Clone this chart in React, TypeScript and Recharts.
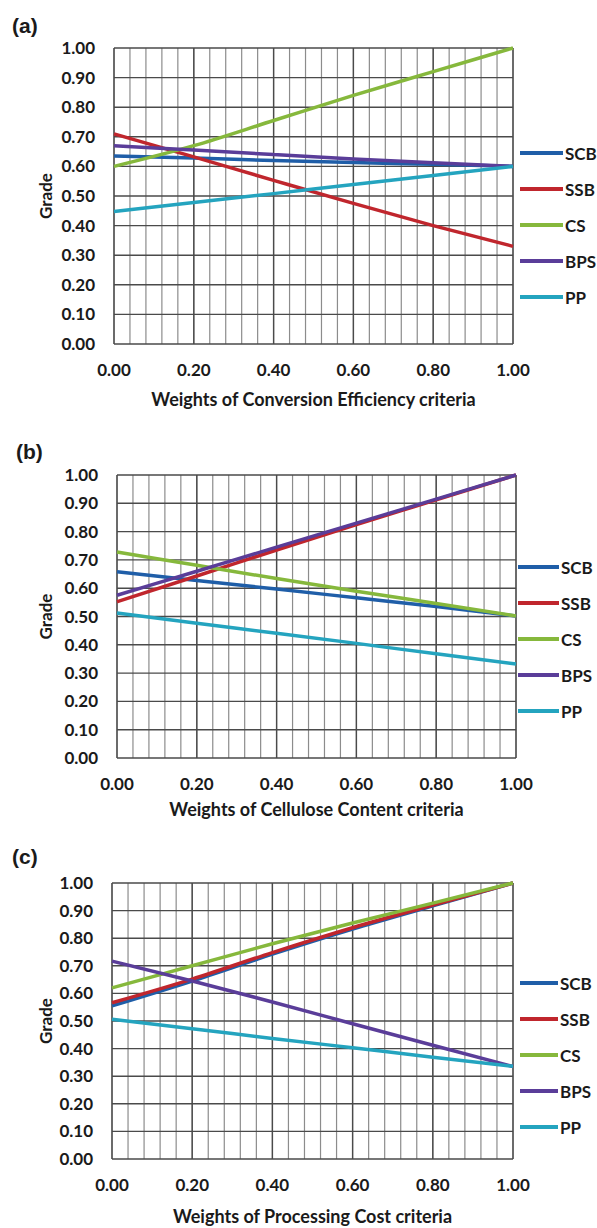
import { LineChart, Line, XAxis, YAxis, CartesianGrid } from "recharts";

const weights = [0, 0.2, 0.4, 0.6, 0.8, 1.0];
const seriesNames = ["SCB", "SSB", "CS", "BPS", "PP"];
const seriesColors = ["#1f5ea8", "#c0262d", "#86b83c", "#5a3d99", "#24a4bf"];

// (a) Conversion Efficiency
const scbA = [0.635, 0.628, 0.62, 0.613, 0.607, 0.6];
const ssbA = [0.71, 0.632, 0.553, 0.475, 0.4, 0.33];
const csA = [0.6, 0.67, 0.755, 0.84, 0.92, 1.0];
const bpsA = [0.67, 0.655, 0.64, 0.625, 0.612, 0.6];
const ppA = [0.448, 0.478, 0.508, 0.539, 0.569, 0.6];

// (b) Cellulose Content
const scbB = [0.658, 0.627, 0.597, 0.566, 0.535, 0.502];
const ssbB = [0.552, 0.643, 0.735, 0.825, 0.912, 1.0];
const csB = [0.728, 0.681, 0.634, 0.589, 0.546, 0.502];
const bpsB = [0.575, 0.66, 0.745, 0.83, 0.915, 1.0];
const ppB = [0.512, 0.476, 0.441, 0.405, 0.368, 0.332];

// (c) Processing Cost
const scbC = [0.555, 0.645, 0.742, 0.833, 0.917, 1.0];
const ssbC = [0.566, 0.652, 0.748, 0.838, 0.92, 1.0];
const csC = [0.62, 0.7, 0.78, 0.855, 0.927, 1.0];
const bpsC = [0.717, 0.645, 0.569, 0.49, 0.412, 0.335];
const ppC = [0.506, 0.472, 0.437, 0.403, 0.369, 0.336];

const gradeTicks = [0, 0.1, 0.2, 0.3, 0.4, 0.5, 0.6, 0.7, 0.8, 0.9, 1.0];
const weightTicks = [0, 0.2, 0.4, 0.6, 0.8, 1.0];
const minorTicks = Array.from({ length: 26 }, (_, i) => i * 0.04);

const toRows = (cols: number[][]) =>
  weights.map((w, i) => {
    const r: any = { w };
    seriesNames.forEach((n, j) => (r[n] = cols[j][i]));
    return r;
  });

const panels = [
  {
    tag: "(a)", tagY: 14, tagX: 12,
    title: "Weights of Conversion Efficiency criteria",
    rows: toRows([scbA, ssbA, csA, bpsA, ppA]),
    plotTop: 48, plotBottom: 344, plotLeft: 114, plotRight: 513,
    titleGap: 62, legendX: 520, legendY: 153, swatch: 43,
  },
  {
    tag: "(b)", tagY: 440, tagX: 16,
    title: "Weights of Cellulose Content criteria",
    rows: toRows([scbB, ssbB, csB, bpsB, ppB]),
    plotTop: 475, plotBottom: 758, plotLeft: 117, plotRight: 516,
    titleGap: 58, legendX: 518, legendY: 567, swatch: 41,
  },
  {
    tag: "(c)", tagY: 845, tagX: 12,
    title: "Weights of Processing Cost criteria",
    rows: toRows([scbC, ssbC, csC, bpsC, ppC]),
    plotTop: 883, plotBottom: 1159, plotLeft: 112, plotRight: 513,
    titleGap: 64, legendX: 520, legendY: 983, swatch: 38,
  },
];

const FONT = "Lato, 'Open Sans', sans-serif";
const INK = "#1a1a1a";

const Panel = ({ p }: { p: (typeof panels)[number] }) => {
  const T = p.plotTop - 40;
  const h = p.plotBottom - T + 72;
  return (
    <>
      <div
        style={{
          position: "absolute", left: p.tagX, top: p.tagY,
          fontFamily: "'Liberation Sans', Arial, sans-serif",
          fontWeight: 700, fontSize: 21, color: INK,
        }}
      >
        {p.tag}
      </div>
      <div style={{ position: "absolute", left: 0, top: T }}>
        <LineChart
          width={597}
          height={h}
          data={p.rows}
          margin={{ top: 40, right: 597 - p.plotRight, left: 0, bottom: 0 }}
        >
          <XAxis
            xAxisId="minor"
            dataKey="w"
            type="number"
            domain={[0, 1]}
            ticks={minorTicks}
            interval={0}
            hide
          />
          <XAxis
            xAxisId="main"
            dataKey="w"
            type="number"
            domain={[0, 1]}
            ticks={weightTicks}
            interval={0}
            tickFormatter={(v: number) => v.toFixed(2)}
            height={72}
            axisLine={false}
            tickLine={false}
            tickMargin={14}
            tick={{ fill: INK, fontSize: 17, fontWeight: 700, fontFamily: FONT }}
            label={(props: any) => {
              const vb = props.viewBox;
              return (
                <text
                  x={vb.x + vb.width / 2}
                  y={vb.y + p.titleGap}
                  textAnchor="middle"
                  fill={INK}
                  style={{ fontSize: 18, fontWeight: 700, fontFamily: FONT }}
                >
                  {p.title}
                </text>
              );
            }}
          />
          <YAxis
            domain={[0, 1]}
            ticks={gradeTicks}
            interval={0}
            width={p.plotLeft}
            tickFormatter={(v: number) => v.toFixed(2)}
            axisLine={false}
            tickLine={false}
            tickMargin={13}
            tick={{ fill: INK, fontSize: 17, fontWeight: 700, fontFamily: FONT }}
            label={(props: any) => {
              const vb = props.viewBox;
              const cx = vb.x + 45;
              const cy = vb.y + vb.height / 2;
              return (
                <text
                  x={cx}
                  y={cy}
                  transform={`rotate(-90 ${cx} ${cy})`}
                  textAnchor="middle"
                  dominantBaseline="central"
                  fill={INK}
                  style={{ fontSize: 17, fontWeight: 700, fontFamily: FONT }}
                >
                  Grade
                </text>
              );
            }}
          />
          <CartesianGrid xAxisId="minor" horizontal={false} stroke="#8c8c8c" strokeWidth={1.2} />
          <CartesianGrid xAxisId="main" stroke="#4a4a4a" strokeWidth={1.4} />
          {seriesNames.map((n, i) => (
            <Line
              key={n}
              xAxisId="main"
              type="monotone"
              dataKey={n}
              stroke={seriesColors[i]}
              strokeWidth={3.5}
              dot={false}
              activeDot={false}
              isAnimationActive={false}
            />
          ))}
        </LineChart>
      </div>
      {seriesNames.map((n, i) => (
        <div
          key={n}
          style={{
            position: "absolute",
            left: p.legendX,
            top: p.legendY + i * 36 - 10,
            height: 20,
            display: "flex",
            alignItems: "center",
            fontFamily: FONT,
            fontWeight: 700,
            fontSize: 17,
            color: INK,
            whiteSpace: "nowrap",
          }}
        >
          <span style={{ display: "inline-block", width: p.swatch, height: 4, background: seriesColors[i], marginRight: 2 }} />
          {n}
        </div>
      ))}
    </>
  );
};

export default function App() {
  return (
    <div
      style={{
        position: "absolute", left: 0, top: 0, width: 597, height: 1228,
        background: "#fff", overflow: "hidden",
      }}
    >
      {panels.map((p) => (
        <Panel key={p.tag} p={p} />
      ))}
    </div>
  );
}
